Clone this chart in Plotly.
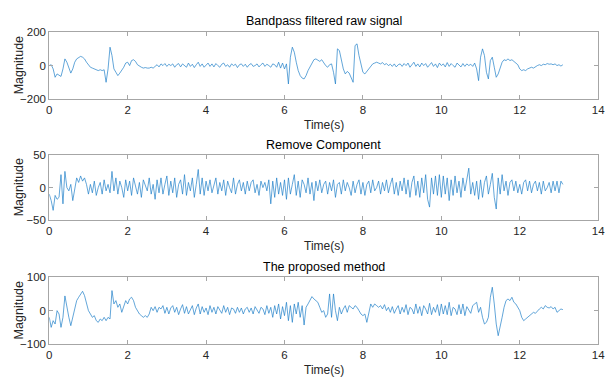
import numpy as np
import plotly.graph_objects as go

dt = 0.05

raw_signal = [
    0, 5, -20, -70, -50, -60, -65, -20, 40, 20, -10, -45, -20, 20, 40, 50, 55, 50, 40, 20,
    5, -10, -15, -20, -25, -30, -25, -30, -25, -100, -20, 110, 60, -20, -40, -60, -45, -30, -10, 15,
    20, 0, 30, 35, 25, 5, -5, -10, -15, -12, -15, -15, -10, -15, -5, 5, -8, 10, 0, 12,
    -5, 8, 0, 10, -10, 5, 12, -8, 10, 0, -10, 15, -5, 8, -12, 5, 20, -5, 10, -10,
    5, 15, -5, 10, -8, 12, 0, -10, 8, 15, -5, 5, -10, 10, 0, 8, -12, 5, 10, -5,
    8, -10, 5, 12, -5, 0, 10, -8, 5, 15, -5, 8, 0, -10, 10, 5, -10, 20, -15, 15,
    -20, 10, -110, 50, 110, 80, 20, -30, -60, -75, -80, -60, -30, -5, 20, 35, 40, 30, 25, 35,
    15, 0, -10, 5, 10, -40, -110, 100, 90, 40, -20, -50, -35, -45, -70, -100, 120, 130, 60, 0,
    -40, -50, -35, -20, -5, 10, 15, 20, 15, 10, 18, 5, 12, 0, 8, -5, 10, -8, 5, 10,
    -5, 12, 0, 15, -10, 8, 20, -5, 10, -8, 15, 0, 12, -10, 8, 18, -5, 10, -12, 15,
    0, 10, -8, 18, -5, 12, 0, -10, 15, 5, -8, 12, -5, 10, 0, 8, -5, 15, -20, -90,
    50, 100, 60, -40, -80, 30, 50, -10, -70, -50, -20, 20, 35, 30, 40, 30, 35, 25, 20, 5,
    -20, -30, -25, -30, -20, -15, -10, -15, -5, 0, 5, 0, 8, 5, 12, 8, 10, 5, 10, 0,
    5, -3, 5,
]

removed_component = [
    -10, -20, -35, -12, -18, -15, 20, -25, 25, 0, -5, 5, -20, 0, 15, 8, 18, 10, 15, 5,
    -10, 5, -8, 10, -12, 0, 8, -10, 12, -5, 5, -8, 25, -5, 15, -10, 10, 0, -15, 12,
    -5, 10, -12, 15, 0, -10, 8, -15, 12, 2, -5, 15, -10, 5, -18, 12, -8, 15, -10, 5,
    18, -12, 10, -8, 15, -15, 5, 12, -10, 20, -12, 8, -5, 15, -15, 5, 28, -10, 15, -12,
    10, -5, 12, -8, 5, 15, -10, 8, -5, 12, -12, 10, 0, -8, 15, -10, 5, 12, -5, 8,
    -10, 10, -5, 8, 12, -8, 5, -12, 10, 0, 8, -5, 12, -25, 10, -15, 15, -10, 8, -12,
    12, -18, 15, -10, 5, 20, -12, 10, -15, 12, 5, -8, 15, -10, 8, -20, 10, -5, 12, -8,
    5, 10, -10, 8, -5, 12, -15, 5, 8, -10, 12, -5, 8, 0, -12, 10, -8, 5, 12, -10,
    8, -12, 5, 10, -8, 12, -5, 0, 10, -10, 8, -5, 12, -8, 5, 15, -10, 8, -12, 10,
    -5, 15, -10, 12, -15, 8, 18, -12, 10, -15, 15, -8, 20, -18, -30, 15, -10, 18, -12, 20,
    -15, 18, -10, 15, -20, 12, -12, 18, -8, 10, -15, 15, -5, 12, 30, -10, 8, -12, 10, -18,
    12, -15, 8, 18, -10, 5, 22, -15, -33, 15, -10, 20, -5, 10, -12, 8, 12, -5, 10, -8,
    5, -10, 8, 12, -5, 10, -8, 5, 10, -5, 8, -10, 10, -5, 0, 8, -8, 10, -5, 10,
    -8, 10, 5,
]

proposed_method = [
    -20, -50, -30, -40, 0, -10, -50, -20, 44, 10, -20, -45, -20, 10, 30, 40, 50, 58, 45, 20,
    0, -10, -20, -15, -30, -35, -25, -30, -20, -30, -20, -25, 60, 20, 30, 10, 20, -5, 10, 30,
    20, 35, 40, 30, 10, 0, -10, -15, -20, -15, -20, -10, 10, 0, 12, -5, 10, 5, 15, -8,
    10, -10, 8, 15, -5, 10, -12, 5, 18, -8, 12, -10, 5, 15, -12, 8, 20, -10, 12, -5,
    8, -12, 15, -5, 10, -10, 12, 0, -8, 15, -5, 10, -12, 8, 5, -8, 10, -5, 8, -10,
    5, 10, -5, 8, -10, 12, 0, -8, 10, 5, -12, 15, -8, 10, -20, 15, -10, 20, -25, 12,
    -15, 25, -30, 15, -35, 20, -10, 25, -20, 15, -43, 10, 20, 30, 42, 35, 30, 25, 10, -5,
    0, -20, -10, 50, -20, 50, 0, -30, 10, -10, 5, 15, -5, 15, 10, 5, 15, 10, 0, -10,
    -15, -10, -35, -5, 20, 10, 20, 15, 10, 15, 5, 18, 0, 10, -5, 12, -8, 5, 15, -10,
    10, -5, 18, -12, 10, 5, -10, 20, -8, 12, -15, 15, 5, -10, 22, -12, 10, -5, 18, -15,
    20, -10, 15, -12, 25, -15, 10, 5, -12, 18, -10, 20, -15, 12, 0, -8, 15, 20, 25, -5,
    10, -20, -40, -35, -20, 40, 70, 20, -40, -75, -50, -20, 10, 30, 35, 30, 40, 25, 20, 10,
    0, -20, -30, -25, -20, -15, -10, -5, -8, 0, 5, 10, 5, 15, 10, 8, 12, 5, 10, -5,
    0, 5, 3,
]

titles = ["Bandpass filtered raw signal", "Remove Component", "The proposed method"]
y_ranges = [(-200, 200), (-50, 50), (-100, 100)]
y_ticks = [[-200, 0, 200], [-50, 0, 50], [-100, 0, 100]]
x_ticks = [0, 2, 4, 6, 8, 10, 12, 14]

W, H = 616, 383
# pixel boxes for each axes (top, bottom)
boxes = [(27, 96), (154, 221), (280, 349)]
x_left, x_right = 47, 605


def py(p):
    return 1 - p / H


def px(p):
    return p / W


fig = go.Figure()
series = [raw_signal, removed_component, proposed_method]
axis_color = "#a6a6a6"
text_color = "#262626"
font_family = "Liberation Sans, Arial, sans-serif"

for i, s in enumerate(series):
    t = np.arange(len(s)) * dt
    idx = "" if i == 0 else str(i + 1)
    fig.add_trace(go.Scatter(
        x=t, y=s, mode="lines",
        line=dict(color="#1f80c8", width=0.7),
        xaxis="x" + idx, yaxis="y" + idx, showlegend=False, hoverinfo="skip",
    ))
    top, bot = boxes[i]
    fig.layout["xaxis" + idx] = dict(
        domain=[px(x_left), px(x_right)], anchor="y" + idx,
        range=[0, 14], tickvals=x_ticks, ticks="inside", ticklen=4,
        tickcolor=axis_color, showline=True, linecolor=axis_color, linewidth=1,
        mirror="ticks", showgrid=False, zeroline=False,
        tickfont=dict(size=11.5, color=text_color, family=font_family),
    )
    fig.layout["yaxis" + idx] = dict(
        domain=[py(bot), py(top)], anchor="x" + idx,
        range=list(y_ranges[i]), tickvals=y_ticks[i], ticks="inside", ticklen=4,
        tickcolor=axis_color, showline=True, linecolor=axis_color, linewidth=1,
        mirror="ticks", showgrid=False, zeroline=False,
        tickfont=dict(size=11.5, color=text_color, family=font_family),
    )
    fig.add_annotation(text=titles[i], x=px((x_left + x_right) / 2), y=py(top - 11),
                       xref="paper", yref="paper", showarrow=False,
                       font=dict(size=12.5, color="#000000", family=font_family),
                       xanchor="center", yanchor="middle")
    fig.add_annotation(text="Time(s)", x=px((x_left + x_right) / 2), y=py(bot + 27),
                       xref="paper", yref="paper", showarrow=False,
                       font=dict(size=12, color=text_color, family=font_family),
                       xanchor="center", yanchor="middle")
    fig.add_annotation(text="Magnitude", x=px(16), y=py((top + bot) / 2),
                       xref="paper", yref="paper", showarrow=False, textangle=-90,
                       font=dict(size=12.5, color=text_color, family=font_family),
                       xanchor="center", yanchor="middle")

fig.update_layout(
    width=W, height=H, margin=dict(l=0, r=0, t=0, b=0),
    paper_bgcolor="white", plot_bgcolor="white",
    font=dict(family=font_family),
)

fig.write_html(
    "out.html",
    config={"displayModeBar": False},
    post_script="document.body.style.margin='0';document.body.style.overflow='hidden';",
)
